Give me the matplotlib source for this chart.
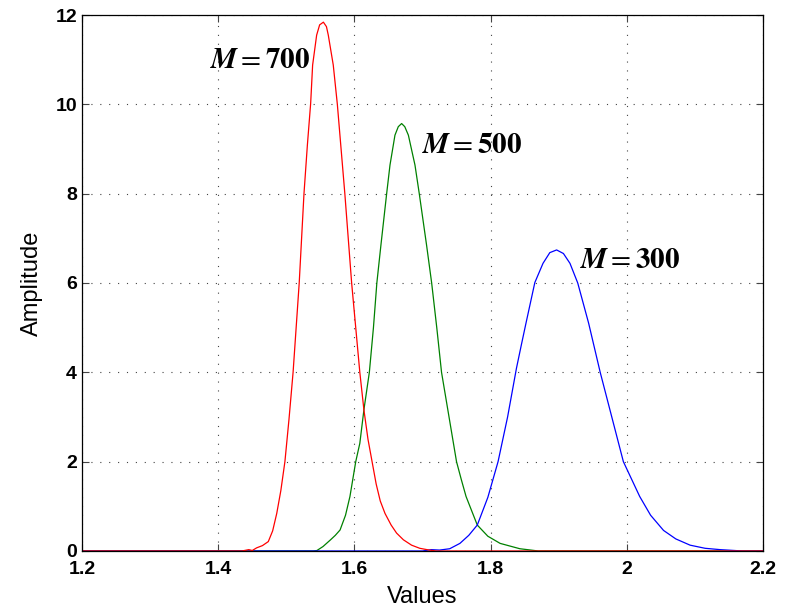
import matplotlib.pyplot as plt

plt.rcParams['font.family'] = ['Liberation Sans', 'DejaVu Sans']
plt.rcParams['mathtext.fontset'] = 'stix'

# M = 700 (red)
x700 = [1.20, 1.40, 1.435, 1.445, 1.45, 1.4565, 1.465, 1.4736, 1.480, 1.486, 1.492, 1.498,
        1.504, 1.510, 1.519, 1.526, 1.531, 1.5358, 1.5387, 1.5446, 1.549, 1.5545, 1.559,
        1.5617, 1.569, 1.575, 1.580, 1.586, 1.596, 1.602, 1.608, 1.614, 1.620, 1.626, 1.632,
        1.638, 1.645, 1.654, 1.662, 1.672, 1.684, 1.696, 1.71, 1.72, 2.20]
y700 = [0.0, 0.0, 0.0, 0.03, 0.01, 0.07, 0.12, 0.21, 0.45, 0.84, 1.35, 2.0,
        2.95, 4.0, 6.0, 8.0, 9.09, 10.02, 10.88, 11.55, 11.78, 11.84, 11.74,
        11.55, 10.88, 10.0, 9.09, 8.0, 6.0, 5.0, 4.0, 3.16, 2.5, 2.0, 1.5,
        1.12, 0.84, 0.58, 0.40, 0.25, 0.13, 0.06, 0.02, 0.0, 0.0]

# M = 500 (green)
x500 = [1.20, 1.54, 1.545, 1.554, 1.565, 1.572, 1.579, 1.587, 1.5935, 1.602, 1.608, 1.614,
        1.622, 1.628, 1.633, 1.639, 1.6474, 1.6523, 1.6596, 1.6645, 1.6694, 1.674, 1.6793,
        1.689, 1.6953, 1.706, 1.7135, 1.721, 1.728, 1.739, 1.750, 1.757, 1.764, 1.7805,
        1.796, 1.814, 1.843, 1.87, 2.20]
y500 = [0.0, 0.0, 0.01, 0.1, 0.25, 0.35, 0.47, 0.8, 1.22, 2.0, 2.41, 3.16,
        4.0, 5.0, 6.0, 6.85, 8.0, 8.64, 9.31, 9.5, 9.57, 9.5, 9.31,
        8.64, 8.0, 6.85, 6.0, 5.0, 4.0, 3.0, 2.0, 1.6, 1.22, 0.58,
        0.33, 0.17, 0.05, 0.0, 0.0]

# M = 300 (blue)
x300 = [1.20, 1.70, 1.713, 1.725, 1.740, 1.755, 1.768, 1.7805, 1.796, 1.811, 1.825, 1.838,
        1.845, 1.852, 1.865, 1.877, 1.887, 1.897, 1.907, 1.9166, 1.928, 1.944, 1.961,
        1.978, 1.995, 2.019, 2.035, 2.054, 2.072, 2.093, 2.115, 2.137, 2.17, 2.20]
y300 = [0.0, 0.0, 0.03, 0.02, 0.05, 0.17, 0.35, 0.58, 1.2, 2.0, 3.0, 4.09,
        4.6, 5.1, 6.01, 6.44, 6.68, 6.74, 6.66, 6.44, 6.0, 5.1, 4.0,
        3.0, 2.0, 1.22, 0.8, 0.46, 0.27, 0.13, 0.06, 0.03, 0.0, 0.0]

labels = [r'$\mathbfit{M} = \mathbf{700}$', r'$\mathbfit{M} = \mathbf{500}$',
          r'$\mathbfit{M} = \mathbf{300}$']
label_pos = [(1.388, 11.0), (1.699, 9.09), (1.931, 6.51)]

fig = plt.figure(figsize=(7.89, 6.08), dpi=100)
ax = fig.add_axes([0.1039, 0.0938, 0.8631, 0.8815])

ax.plot(x500, y500, color='#008000', lw=0.9)
ax.plot(x300, y300, color='#0000ff', lw=0.9)
ax.plot(x700, y700, color='#ff0000', lw=0.9)

for txt, (tx, ty) in zip(labels, label_pos):
    ax.text(tx, ty, txt, fontsize=21, ha='left', va='center')

ax.set_xlim(1.2, 2.2)
ax.set_ylim(0, 12)
ax.set_xticks([1.2, 1.4, 1.6, 1.8, 2.0, 2.2])
ax.set_xticklabels(['1.2', '1.4', '1.6', '1.8', '2', '2.2'])
ax.set_yticks([0, 2, 4, 6, 8, 10, 12])
ax.tick_params(direction='in', top=True, right=True, labelsize=14, length=5, width=0.8,
               color='#444444')
ax.tick_params(axis='x', pad=7)
for lab in ax.get_xticklabels() + ax.get_yticklabels():
    lab.set_fontweight('bold')
ax.grid(True, linestyle=(0, (1, 7)), color='#444444', linewidth=0.8)
for s in ax.spines.values():
    s.set_linewidth(0.9)

ax.set_xlabel('Values', fontsize=17, labelpad=6)
ax.set_ylabel('Amplitude', fontsize=17, labelpad=9)

fig.savefig('out.png', dpi=100)
